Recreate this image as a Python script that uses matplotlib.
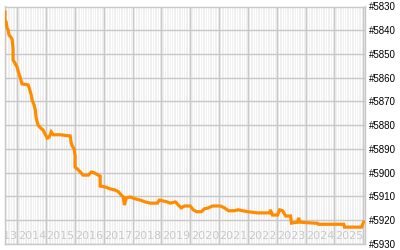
import numpy as np
import matplotlib
matplotlib.use("Agg")
import matplotlib.pyplot as plt
import matplotlib.transforms as mtransforms

# decimal year of each vertex of the rank line
years = [
    2013.58, 2013.58, 2013.62, 2013.65, 2013.69, 2013.72, 2013.79, 2013.83, 2013.86, 2013.86,
    2013.93, 2014.00, 2014.03, 2014.10, 2014.17, 2014.38, 2014.42, 2014.49, 2014.52, 2014.59,
    2014.63, 2014.66, 2014.73, 2014.80, 2014.90, 2014.97, 2015.04, 2015.11, 2015.18, 2015.25,
    2015.49, 2015.84, 2015.88, 2015.91, 2015.98, 2016.01, 2016.01, 2016.12, 2016.19, 2016.29,
    2016.47, 2016.57, 2016.67, 2016.81, 2016.88, 2016.88, 2017.06, 2017.23, 2017.40, 2017.51,
    2017.61, 2017.68, 2017.72, 2017.78, 2017.92, 2018.10, 2018.27, 2018.44, 2018.62, 2018.86,
    2018.93, 2019.07, 2019.21, 2019.31, 2019.49, 2019.59, 2019.69, 2019.80, 2020.00, 2020.11,
    2020.22, 2020.39, 2020.49, 2020.63, 2020.77, 2021.05, 2021.19, 2021.33, 2021.53, 2021.67,
    2021.81, 2021.99, 2022.33, 2022.61, 2022.76, 2022.78, 2022.85, 2023.03, 2023.10, 2023.20,
    2023.31, 2023.48, 2023.51, 2023.72, 2023.76, 2023.80, 2024.41, 2024.45, 2025.32, 2025.35,
    2025.94, 2026.01,
]
ranks = [
    5832.3, 5835.7, 5836.5, 5839.0, 5840.0, 5842.0, 5843.0, 5844.0, 5848.0, 5852.5,
    5854.0, 5855.5, 5857.0, 5859.7, 5862.6, 5863.0, 5864.3, 5867.3, 5869.4, 5871.5,
    5873.6, 5877.0, 5880.0, 5881.0, 5882.0, 5883.7, 5885.4, 5885.0, 5882.8, 5884.0,
    5884.0, 5884.5, 5887.8, 5888.7, 5890.0, 5893.0, 5897.6, 5898.8, 5899.7, 5901.0,
    5901.0, 5899.7, 5900.0, 5901.0, 5901.4, 5905.6, 5906.0, 5906.8, 5907.3, 5908.0,
    5909.4, 5910.2, 5913.6, 5910.6, 5910.2, 5911.0, 5911.5, 5912.3, 5912.8, 5912.8,
    5911.5, 5911.9, 5912.3, 5912.8, 5912.3, 5913.6, 5914.8, 5914.0, 5914.0, 5915.6,
    5916.4, 5916.4, 5915.2, 5914.8, 5914.0, 5914.0, 5914.8, 5916.0, 5916.0, 5915.6,
    5916.0, 5916.4, 5916.9, 5916.9, 5916.9, 5915.6, 5917.8, 5917.8, 5915.6, 5916.0,
    5918.2, 5918.2, 5921.2, 5920.8, 5919.0, 5920.8, 5921.3, 5921.7, 5921.7, 5922.9,
    5922.9, 5920.8,
]
year_labels = list(range(2013, 2027))
rank_ticks = list(range(5830, 5931, 10))

GRID = "#c8c8c8"

fig = plt.figure(figsize=(4, 2.5), dpi=100)
ax = fig.add_axes([0.0125, 0.024, 0.9, 0.95])
ax.set_facecolor("#f0f0f0")

# monthly white stripes
months = np.arange(2013, 2027, 1 / 12)
ax.vlines(months, 5830, 5930, color="white", lw=0.8, zorder=0.2)

ax.plot(years, ranks, color="#ff8c00", lw=2.3, solid_joinstyle="miter", zorder=3)

ax.set_xticks(year_labels)
ax.set_xticklabels([])
ax.set_yticks(rank_ticks)
ax.set_yticklabels([f"#{r}" for r in rank_ticks], family="Liberation Sans")
ax.set_xlim(2013.58, 2026.06)
ax.set_ylim(5930, 5830)
ax.yaxis.tick_right()
ax.tick_params(axis="both", length=0)
ax.tick_params(axis="y", pad=3, labelsize=7, labelcolor="#000000")
ax.set_axisbelow(True)
ax.grid(True, color=GRID, lw=1)
for s in ax.spines.values():
    s.set_color(GRID)
    s.set_linewidth(1)

trans = mtransforms.blended_transform_factory(ax.transData, ax.transAxes)
for y in year_labels:
    ax.text(y + 0.02, 0.034, str(y), transform=trans, ha="left", va="center",
            fontsize=8, color=GRID, clip_on=True, zorder=2)

fig.savefig("out.png", dpi=100)
